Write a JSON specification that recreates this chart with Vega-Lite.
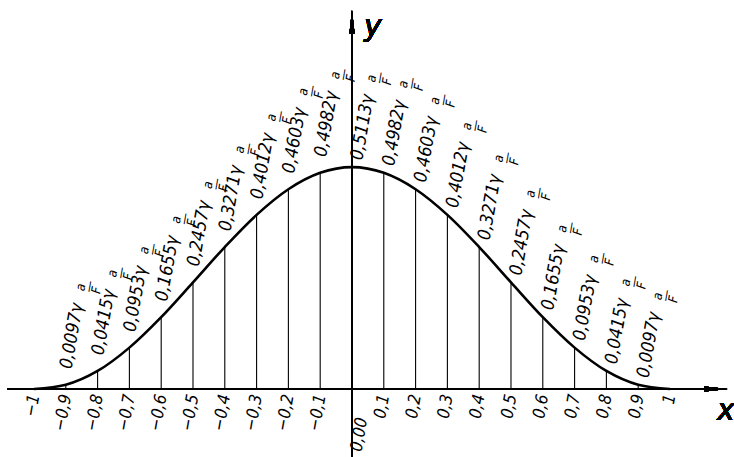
{
  "$schema": "https://vega.github.io/schema/vega-lite/v6.json",
  "width": 734,
  "height": 457,
  "autosize": "none",
  "padding": 0,
  "background": "white",
  "config": {"view": {"stroke": null}},
  "datasets": {
    "ord": [
      {"x": -1, "y": 0, "lab": null},
      {"x": -0.9, "y": 0.0097, "lab": "0,0097γ"},
      {"x": -0.8, "y": 0.0415, "lab": "0,0415γ"},
      {"x": -0.7, "y": 0.0953, "lab": "0,0953γ"},
      {"x": -0.6, "y": 0.1655, "lab": "0,1655γ"},
      {"x": -0.5, "y": 0.2457, "lab": "0,2457γ"},
      {"x": -0.4, "y": 0.3271, "lab": "0,3271γ"},
      {"x": -0.3, "y": 0.4012, "lab": "0,4012γ"},
      {"x": -0.2, "y": 0.4603, "lab": "0,4603γ"},
      {"x": -0.1, "y": 0.4982, "lab": "0,4982γ"},
      {"x": 0, "y": 0.5113, "lab": "0,5113γ"},
      {"x": 0.1, "y": 0.4982, "lab": "0,4982γ"},
      {"x": 0.2, "y": 0.4603, "lab": "0,4603γ"},
      {"x": 0.3, "y": 0.4012, "lab": "0,4012γ"},
      {"x": 0.4, "y": 0.3271, "lab": "0,3271γ"},
      {"x": 0.5, "y": 0.2457, "lab": "0,2457γ"},
      {"x": 0.6, "y": 0.1655, "lab": "0,1655γ"},
      {"x": 0.7, "y": 0.0953, "lab": "0,0953γ"},
      {"x": 0.8, "y": 0.0415, "lab": "0,0415γ"},
      {"x": 0.9, "y": 0.0097, "lab": "0,0097γ"},
      {"x": 1, "y": 0, "lab": null}
    ],
    "ends": [
      {"x": -1, "h": 0.035},
      {"x": 1, "h": 0.035}
    ]
  },
  "data": {"name": "ord"},
  "encoding": {
    "x": {
      "field": "x", "type": "quantitative",
      "scale": {"domain": [-1.1069, 1.2013], "nice": false, "zero": false},
      "axis": {
        "title": null, "domain": false, "ticks": false, "grid": false,
        "offset": -68,
        "values": [-1, -0.9, -0.8, -0.7, -0.6, -0.5, -0.4, -0.3, -0.2, -0.1, 0, 0.1, 0.2, 0.3, 0.4, 0.5, 0.6, 0.7, 0.8, 0.9, 1],
        "labelExpr": "datum.value == 0 ? '0,00' : replace(format(datum.value, '.1~f'), '.', ',')",
        "labelAngle": -80,
        "labelAlign": "right",
        "labelBaseline": {"condition": {"test": "datum.value == 0", "value": "top"}, "value": "middle"},
        "labelPadding": {"condition": {"test": "datum.value == 0", "value": 27}, "value": 5},
        "labelOffset": {"condition": {"test": "datum.value == 0", "value": 2}, "value": 0},
        "labelFont": "DejaVu Sans Condensed",
        "labelFontStyle": "oblique",
        "labelFontSize": 17,
        "labelColor": "black",
        "labelOverlap": false,
        "labelBound": false,
        "labelFlush": false
      }
    },
    "y": {
      "field": "y", "type": "quantitative",
      "scale": {"domain": [-0.1567, 0.8963], "nice": false, "zero": false},
      "axis": null
    }
  },
  "layer": [
    {
      "transform": [{"filter": "abs(datum.x) < 0.95 && datum.x != 0"}],
      "mark": {"type": "rule", "color": "black", "strokeWidth": 1.1},
      "encoding": {"y2": {"datum": 0}}
    },
    {
      "data": {"name": "ends"},
      "mark": {"type": "rule", "color": "black", "strokeWidth": 1.1},
      "encoding": {"y": {"datum": 0}, "y2": {"field": "h"}}
    },
    {
      "mark": {"type": "line", "color": "black", "strokeWidth": 2.6, "interpolate": "monotone"},
      "encoding": {}
    },
    {
      "mark": {"type": "rule", "color": "black", "strokeWidth": 1.6},
      "encoding": {"x": {"datum": -1.085}, "x2": {"datum": 1.15}, "y": {"datum": 0}, "y2": null}
    },
    {
      "mark": {"type": "rule", "color": "black", "strokeWidth": 1.6},
      "encoding": {"x": {"datum": 0}, "y": {"datum": -0.16}, "y2": {"datum": 0.84}}
    },
    {
      "mark": {"type": "point", "filled": true, "color": "black", "opacity": 1, "size": 529, "shape": "M1,0L-1,-0.22L-1,0.22Z"},
      "encoding": {"x": {"datum": 1.145}, "y": {"datum": 0}}
    },
    {
      "mark": {"type": "point", "filled": true, "color": "black", "opacity": 1, "size": 529, "shape": "M0,-1L0.22,1L-0.22,1Z"},
      "encoding": {"x": {"datum": 0}, "y": {"datum": 0.846}}
    },
    {
      "mark": {"type": "text", "text": "y", "font": "DejaVu Sans", "fontStyle": "oblique", "fontSize": 30, "align": "center", "baseline": "middle", "color": "black"},
      "encoding": {"x": {"datum": 0.066}, "y": {"datum": 0.835}}
    },
    {
      "mark": {"type": "text", "text": "x", "font": "DejaVu Sans", "fontStyle": "oblique", "fontSize": 30, "align": "center", "baseline": "middle", "color": "black"},
      "encoding": {"x": {"datum": 1.176}, "y": {"datum": -0.05}}
    },
    {
      "transform": [{"filter": "datum.lab != null && datum.x < 0"}],
      "mark": {"type": "text", "angle": -80, "align": "left", "baseline": "middle", "dx": 16, "dy": -2, "font": "DejaVu Sans Condensed", "fontStyle": "oblique", "fontSize": 18, "color": "black"},
      "encoding": {"text": {"field": "lab"}}
    },
    {
      "transform": [{"filter": "datum.lab != null && datum.x < 0"}],
      "mark": {"type": "text", "angle": -80, "align": "left", "baseline": "middle", "dx": 95, "dy": -2, "text": ["a", "—", "F"], "lineHeight": 8, "font": "DejaVu Sans Condensed", "fontStyle": "oblique", "fontSize": 13, "color": "black"},
      "encoding": {}
    },
    {
      "transform": [{"filter": "datum.lab != null && datum.x >= 0"}],
      "mark": {"type": "text", "angle": -80, "align": "left", "baseline": "middle", "dx": 8, "dy": 4, "font": "DejaVu Sans Condensed", "fontStyle": "oblique", "fontSize": 18, "color": "black"},
      "encoding": {"text": {"field": "lab"}}
    },
    {
      "transform": [{"filter": "datum.lab != null && datum.x >= 0"}],
      "mark": {"type": "text", "angle": -80, "align": "left", "baseline": "middle", "dx": 87, "dy": 4, "text": ["a", "—", "F"], "lineHeight": 8, "font": "DejaVu Sans Condensed", "fontStyle": "oblique", "fontSize": 13, "color": "black"},
      "encoding": {}
    }
  ]
}
